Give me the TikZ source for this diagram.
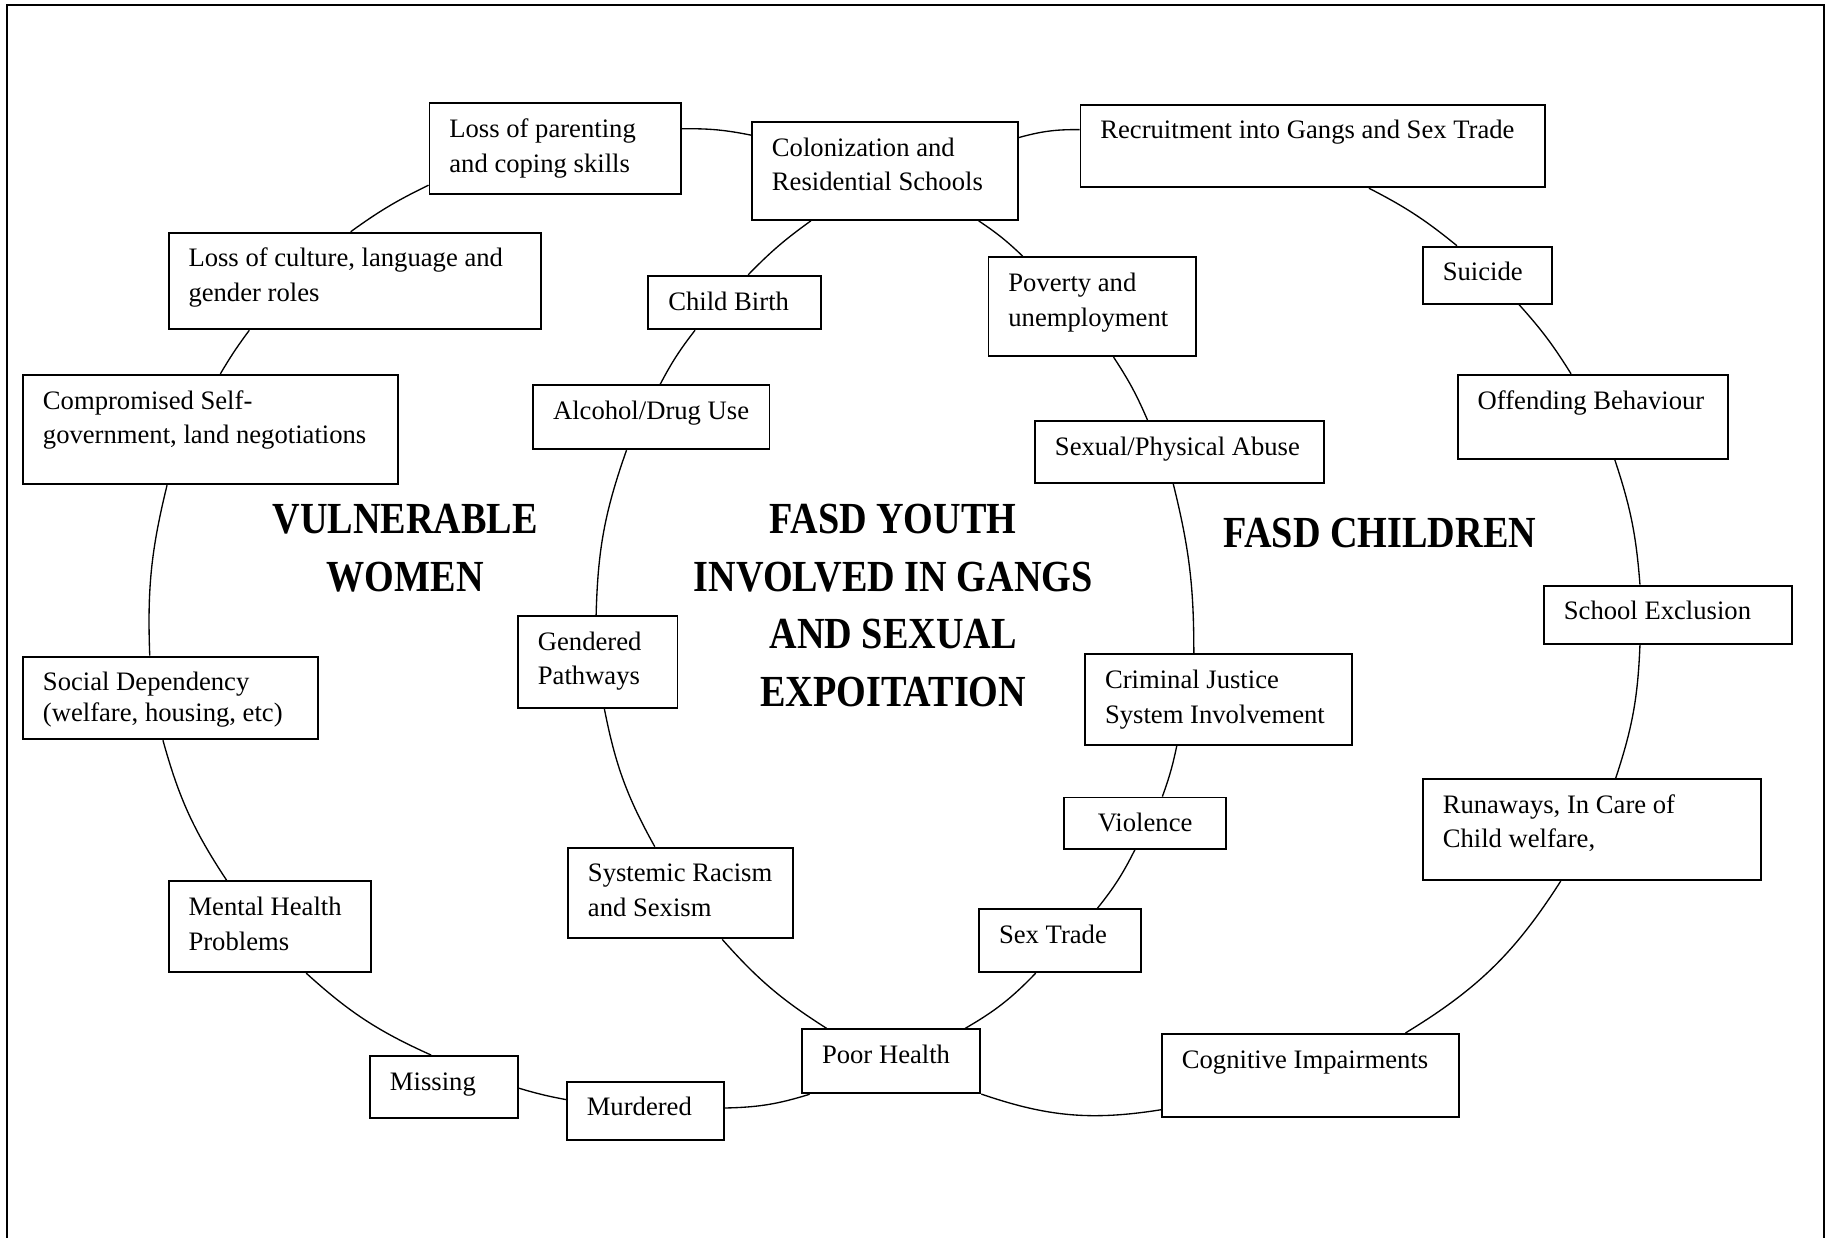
\documentclass[tikz,border=0pt]{standalone}
\usepackage{fontspec}
\setmainfont{Liberation Serif}
\newfontfamily\headfont{Liberation Serif}[FakeStretch=0.86]
\usepackage{tikz}

\def\px{0.5245pt} % one pixel of the layout grid

\begin{document}
\begin{tikzpicture}[x=0.5245pt, y=0.5245pt,
  cbox/.style={draw, line width=0.85pt, fill=white, anchor=north west, inner sep=0pt},
  sz/.style 2 args={minimum width=#1*\px, minimum height=#2*\px},
  txt/.style={inner sep=0pt, align=left, yshift=-9*\px, font=\fontsize{12}{15.6}\selectfont},
  ctext/.style={txt, anchor=north west, xshift=17.5*\px},
  ctextmid/.style={txt, anchor=north},
  link/.style={line width=0.6pt},
  head/.style={font=\headfont\bfseries\fontsize{20}{25.9}\selectfont, align=center, inner sep=0pt}]
  \useasboundingbox (0,0) rectangle (1568,-1063);

  % Page frame (open at the bottom)
  \draw[line width=0.9pt] (5.7,-1063) -- (5.7,-4.3) -- (1566,-4.3) -- (1566,-1063);

  % Headings
  \node[head] (women) at (348,-470.5) {VULNERABLE\\WOMEN};
  \node[head] (youth) at (767,-520) {FASD YOUTH\\INVOLVED IN GANGS\\AND SEXUAL\\EXPOITATION};
  \node[head] (children) at (1185,-458) {FASD CHILDREN};

  % Boxes, top row
  \node[cbox, sz={216}{78}, label={[ctext]north west:\strut Loss of parenting\\and coping skills}] (par) at (368,-88) {};
  \node[cbox, sz={228}{84}, label={[ctext]north west:\strut Colonization and\\Residential Schools}] (col) at (645,-104) {};
  \node[cbox, sz={399}{71}, label={[ctext]north west:\strut Recruitment into Gangs and Sex Trade}] (rec) at (927,-89) {};

  % Women
  \node[cbox, sz={320}{83}, label={[ctext]north west:\strut Loss of culture, language and\\gender roles}] (cul) at (144,-199) {};
  \node[cbox, sz={322}{94}, label={[ctext]north west:\strut Compromised Self-\\government, land negotiations}] (gov) at (19,-321) {};
  \node[cbox, sz={253}{71}, label={[ctext]north west:\strut Social Dependency\\[-2pt](welfare, housing, etc)}] (social) at (19,-563) {};
  \node[cbox, sz={174}{78}, label={[ctext]north west:\strut Mental Health\\Problems}] (mental) at (144,-756) {};
  \node[cbox, sz={127}{53}, label={[ctext]north west:\strut Missing}] (missing) at (317,-906) {};
  \node[cbox, sz={135}{50}, label={[ctext]north west:\strut Murdered}] (murder) at (486,-928) {};

  % Youth
  \node[cbox, sz={148}{46}, label={[ctext]north west:\strut Child Birth}] (cbirth) at (556,-236) {};
  \node[cbox, sz={203}{55}, label={[ctext]north west:\strut Alcohol/Drug Use}] (alc) at (457,-330) {};
  \node[cbox, sz={137}{79}, label={[ctext]north west:\strut Gendered\\Pathways}] (gend) at (444,-528) {};
  \node[cbox, sz={193}{78}, label={[ctext]north west:\strut Systemic Racism\\and Sexism}] (racism) at (487,-727) {};
  \node[cbox, sz={153}{55}, label={[ctext]north west:\strut Poor Health}] (health) at (688,-883) {};
  \node[cbox, sz={139}{54}, label={[ctext]north west:\strut Sex Trade}] (sextrade) at (840,-780) {};
  \node[cbox, sz={139}{44}, label={[ctextmid]north:\strut Violence}] (viol) at (913,-684) {};
  \node[cbox, sz={229}{78}, label={[ctext]north west:\strut Criminal Justice\\System Involvement}] (cjs) at (931,-561) {};
  \node[cbox, sz={248}{53}, label={[ctext]north west:\strut Sexual/Physical Abuse}] (abuse) at (888,-361) {};
  \node[cbox, sz={178}{85}, label={[ctext]north west:\strut Poverty and\\unemployment}] (pov) at (848,-220) {};

  % Children
  \node[cbox, sz={111}{49}, label={[ctext]north west:\strut Suicide}] (sui) at (1221,-211) {};
  \node[cbox, sz={232}{72}, label={[ctext]north west:\strut Offending Behaviour}] (off) at (1251,-321) {};
  \node[cbox, sz={213}{50}, label={[ctext]north west:\strut School Exclusion}] (school) at (1325,-502) {};
  \node[cbox, sz={290}{87}, label={[ctext]north west:\strut Runaways, In Care of\\Child welfare,}] (run) at (1221,-668) {};
  \node[cbox, sz={255}{71}, label={[ctext]north west:\strut Cognitive Impairments}] (cog) at (997,-887) {};

  % Women circle
  \draw[link] (par.196) to[bend right=5] (cul.95);
  \draw[link] (cul.205) to[bend right=3] (gov.80);
  \draw[link] (gov.232) to[bend right=8] (social.116);
  \draw[link] (social.260) to[bend right=9] (mental.133);
  \draw[link] (mental.308) to[bend right=9] (missing.112);
  \draw[link] (missing.359) to[bend right=3] (murder.172);
  \draw[link] (murder.2) to[bend right=8] (health.202);
  \draw[link] (health.340) to[bend right=14] (cog.193);
  \draw[link] (par.9) to[bend left=6] (col.165);
  \draw[link] (col.14) to[bend left=8] (rec.176);

  % Youth circle
  \draw[link] (col.214) to[bend right=5] (cbirth.64);
  \draw[link] (cbirth.215) to[bend right=5] (alc.75);
  \draw[link] (alc.233) to[bend right=9] (gend.92);
  \draw[link] (gend.278) to[bend right=9] (racism.119);
  \draw[link] (racism.312) to[bend right=8] (health.153);
  \draw[link] (health.24) to[bend right=8] (sextrade.233);
  \draw[link] (sextrade.41) to[bend right=6] (viol.249);
  \draw[link] (viol.57) to[bend right=4] (cjs.228);
  \draw[link] (cjs.118) to[bend right=7] (abuse.259);
  \draw[link] (abuse.135) to[bend right=5] (pov.293);
  \draw[link] (pov.144) to[bend right=5] (col.332);

  % Children circle
  \draw[link] (rec.323) to[bend left=6] (sui.136);
  \draw[link] (sui.317) to[bend left=5] (off.117);
  \draw[link] (off.297) to[bend left=7] (school.133);
  \draw[link] (school.227) to[bend left=8] (run.65);
  \draw[link] (run.239) to[bend left=13] (cog.24);
\end{tikzpicture}
\end{document}
